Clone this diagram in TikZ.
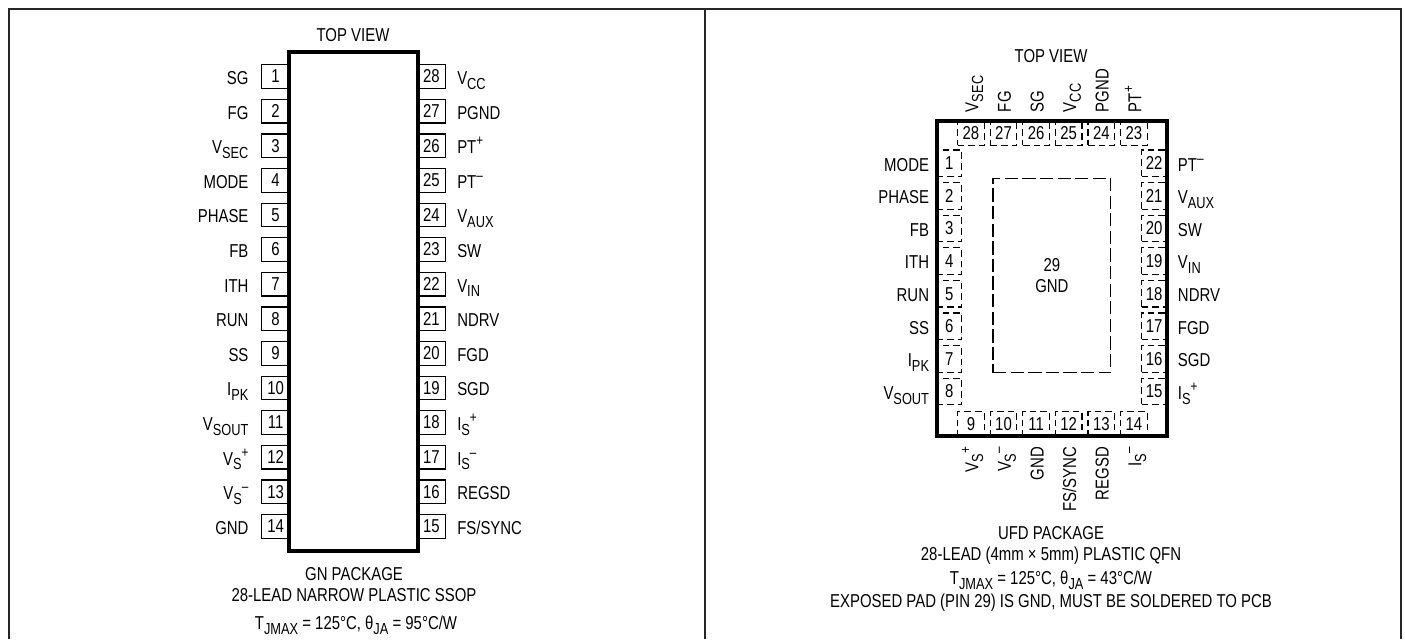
\documentclass[tikz,border=0pt]{standalone}
\usepackage{fontspec}
\setmainfont[FakeStretch=0.8]{Liberation Sans}
\newcommand{\subtxt}[1]{\raisebox{-0.26em}{\fontsize{12}{12}\selectfont #1}}
\newcommand{\suptxt}[1]{\raisebox{0.42em}{\fontsize{11}{11}\selectfont #1}}
\begin{document}
\begin{tikzpicture}[x=0.75pt,y=-0.75pt,
  font=\fontsize{14}{16}\selectfont,
  frame/.style={draw=black!85,line width=1.3pt},
  body/.style={draw,line width=3pt,fill=white,inner sep=0pt},
  gnpin/.style={draw,line width=0.9pt,inner sep=0pt,minimum width=20.9pt,minimum height=17.7pt},
  qfnpin/.style={draw,line width=0.9pt,inner sep=0pt,dash pattern=on 5pt off 3pt},
  sidepin/.style={qfnpin,minimum width=18.75pt,minimum height=19.9pt},
  toppin/.style={qfnpin,minimum width=19.9pt,minimum height=18.2pt},
  padbox/.style={draw,line width=0.9pt,dash pattern=on 10pt off 3.2pt,align=center,
    minimum width=88.3pt,minimum height=145.8pt},
  lab/.style={inner sep=0pt},
  every node/.style={text=black}]

\useasboundingbox (0,0) rectangle (1405,639);

%draw frame
  \draw[frame] (9,639) -- (9,9) -- (1401,9) -- (1401,639);
  \draw[frame] (705,9) -- (705,639);

%draw SSOP pins
  \foreach \n/\lab in {1/SG,2/FG,3/{V\subtxt{SEC}},4/MODE,5/PHASE,6/FB,7/ITH,8/RUN,9/SS,
    10/{I\subtxt{PK}},11/{V\subtxt{SOUT}},12/{V\subtxt{S}\suptxt{+}},13/{V\subtxt{S}\suptxt{–}},14/GND} {
    \node[gnpin] (gnpin\n) at (275.6,{76.5+34.6*(\n-1)}) {\n};
    \node[lab,anchor=base east] (gnlab\n) at (248.7,{84.5+34.6*(\n-1)}) {\lab};
  }
  \foreach \n/\lab in {28/{V\subtxt{CC}},27/PGND,26/{PT\suptxt{+}},25/{PT\suptxt{–}},24/{V\subtxt{AUX}},23/SW,22/{V\subtxt{IN}},
    21/NDRV,20/FGD,19/SGD,18/{I\subtxt{S}\suptxt{+}},17/{I\subtxt{S}\suptxt{–}},16/REGSD,15/{FS/SYNC}} {
    \node[gnpin] (gnpin\n) at (431.3,{76.5+34.6*(28-\n)}) {\n};
    \node[lab,anchor=base west] (gnlab\n) at (457,{84.5+34.6*(28-\n)}) {\lab};
  }
  \node[body,minimum width=96.4pt,minimum height=374pt] (gnbody) at (353.5,301.4) {};

%label SSOP package
  \node[lab,anchor=base] (gntop) at (353,41) {TOP VIEW};
  \node[lab,anchor=base] (gnname) at (354,580.7) {GN PACKAGE};
  \node[lab,anchor=base] (gnlead) at (354,601.7) {28-LEAD NARROW PLASTIC SSOP};
  \node[lab,anchor=base] (gntemp) at (356,629.3) {T\subtxt{JMAX} = 125°C, θ\subtxt{JA} = 95°C/W};

%draw QFN pins
  \foreach \n/\lab in {1/MODE,2/PHASE,3/FB,4/ITH,5/RUN,6/SS,7/{I\subtxt{PK}},8/{V\subtxt{SOUT}}} {
    \node[sidepin] (qfnpin\n) at (949.2,{163.3+32.6*(\n-1)}) {\n};
    \node[lab,anchor=base east] (qfnlab\n) at (929.3,{171+32.6*(\n-1)}) {\lab};
  }
  \foreach \n/\lab in {22/{PT\suptxt{–}},21/{V\subtxt{AUX}},20/SW,19/{V\subtxt{IN}},18/NDRV,17/FGD,16/SGD,15/{I\subtxt{S}\suptxt{+}}} {
    \node[sidepin] (qfnpin\n) at (1154.2,{163.3+32.6*(22-\n)}) {\n};
    \node[lab,anchor=base west] (qfnlab\n) at (1177.7,{171+32.6*(22-\n)}) {\lab};
  }
  \foreach \n/\lab in {28/{V\subtxt{SEC}},27/FG,26/SG,25/{V\subtxt{CC}},24/PGND,23/{PT\suptxt{+}}} {
    \node[toppin] (qfnpin\n) at ({970.9+32.6*(28-\n)},133) {\n};
    \node[lab,anchor=base west,rotate=90] (qfnlab\n) at ({978.3+32.6*(28-\n)},112.3) {\lab};
  }
  \foreach \n/\lab in {9/{V\subtxt{S}\suptxt{+}},10/{V\subtxt{S}\suptxt{–}},11/GND,12/{FS/SYNC},13/REGSD,14/{I\subtxt{S}\suptxt{–}}} {
    \node[toppin] (qfnpin\n) at ({970.9+32.6*(\n-9)},423.8) {\n};
    \node[lab,anchor=base east,rotate=90] (qfnlab\n) at ({978.3+32.6*(\n-9)},446.7) {\lab};
  }
  \node[body,fill=none,minimum width=172.5pt,minimum height=236.25pt] (qfnbody) at (1051.7,278.5) {};
  \node[padbox] (qfnpad) at (1051.85,275.5) {29\\GND};

%label QFN package
  \node[lab,anchor=base] (qfntop) at (1051,62) {TOP VIEW};
  \node[lab,anchor=base] (qfnname) at (1051,539) {UFD PACKAGE};
  \node[lab,anchor=base] (qfnlead) at (1051,560) {28-LEAD (4mm × 5mm) PLASTIC QFN};
  \node[lab,anchor=base] (qfntemp) at (1051,584.5) {T\subtxt{JMAX} = 125°C, θ\subtxt{JA} = 43°C/W};
  \node[lab,anchor=base] (qfnpcb) at (1051,607.5) {EXPOSED PAD (PIN 29) IS GND, MUST BE SOLDERED TO PCB};

\end{tikzpicture}
\end{document}
